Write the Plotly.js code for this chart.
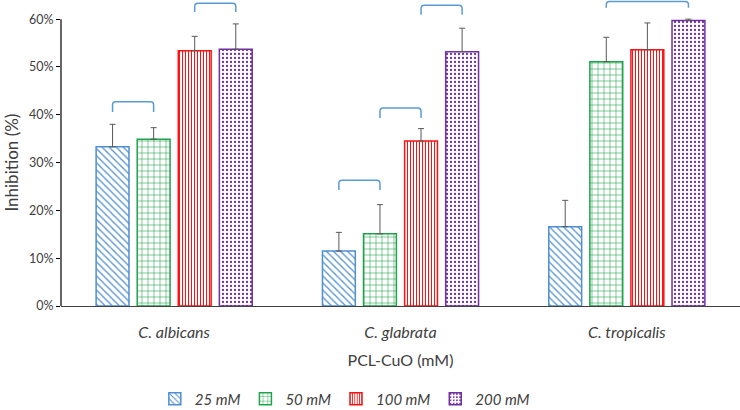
<!DOCTYPE html>
<html>
<head>
<meta charset="utf-8">
<script src="https://cdn.plot.ly/plotly-3.0.1.min.js"></script>
<style>html,body{margin:0;padding:0;background:#fff;}#chart{width:740px;height:410px;}</style>
</head>
<body>
<div id="chart"></div>
<script>
// ---- data ----
var categories = ['C. albicans', 'C. glabrata', 'C. tropicalis'];
var seriesNames = ['25 mM', '50 mM', '100 mM', '200 mM'];
var inh25 = [0.333, 0.115, 0.166];
var inh50 = [0.349, 0.151, 0.511];
var inh100 = [0.534, 0.345, 0.536];
var inh200 = [0.537, 0.532, 0.597];
var err25 = [0.047, 0.039, 0.055];
var err50 = [0.024, 0.061, 0.051];
var err100 = [0.030, 0.026, 0.056];
var err200 = [0.053, 0.049, 0.003];
var yTickVals = [0, 0.1, 0.2, 0.3, 0.4, 0.5, 0.6];
var yTickText = ['0%', '10%', '20%', '30%', '40%', '50%', '60%'];
// significance brackets: category index, from series, to series, top level, end level
var brCat = [0, 0, 1, 1, 1, 2];
var brFrom = [0, 2, 0, 1, 2, 1];
var brTo = [1, 3, 1, 2, 3, 3];
var brTop = [0.427, 0.633, 0.263, 0.414, 0.629, 0.637];
var brEnd = [0.406, 0.615, 0.2425, 0.393, 0.609, 0.624];

// ---- styles ----
var colors = ['#4F8FD0', '#1FA34A', '#FF1010', '#7030A0'];
var shapesPat = ['\\', '+', '|', '.'];
var patSize = [5, 6, 3, 4];
var patSolid = [0.25, 0.18, 0.35, 0.25];
var values = [inh25, inh50, inh100, inh200];
var errs = [err25, err50, err100, err200];
var bargap = 0.274;
var font = 'Lato, "Open Sans", sans-serif';
var textColor = '#404040';

var traces = values.map(function (v, i) {
  return {
    type: 'bar', name: seriesNames[i], x: categories, y: v,
    marker: {
      color: '#ffffff',
      line: {color: colors[i], width: 1.5},
      pattern: {shape: shapesPat[i], fgcolor: colors[i], bgcolor: '#ffffff', size: patSize[i], solidity: patSolid[i], fillmode: 'replace'}
    },
    error_y: {type: 'data', symmetric: false, array: errs[i], arrayminus: v.map(function(){return 0;}), color: '#595959', thickness: 1, width: 3},
    hoverinfo: 'none'
  };
});

var slot = (1 - bargap) / 4;
function barCenter(cat, s) { return cat + (s - 1.5) * slot; }
var rx = 0.014, ry = 0.007;
var shapes = brCat.map(function (c, k) {
  var x1 = barCenter(c, brFrom[k]), x2 = barCenter(c, brTo[k]);
  var t = brTop[k], e = brEnd[k];
  var d = 'M' + x1 + ',' + e + ' L' + x1 + ',' + (t - ry) + ' Q' + x1 + ',' + t + ' ' + (x1 + rx) + ',' + t +
    ' L' + (x2 - rx) + ',' + t + ' Q' + x2 + ',' + t + ' ' + x2 + ',' + (t - ry) + ' L' + x2 + ',' + e;
  return {type: 'path', xref: 'x', yref: 'y', path: d, line: {color: '#5B9BD5', width: 1.5}};
});
// y axis line (0% to 60%)
shapes.push({type: 'line', xref: 'paper', yref: 'y', x0: 0, x1: 0, y0: 0, y1: yTickVals[yTickVals.length - 1], line: {color: '#000000', width: 1.2}});

var layout = {
  width: 740, height: 410,
  margin: {l: 61, r: 0, t: 0, b: 104, autoexpand: false},
  paper_bgcolor: '#ffffff', plot_bgcolor: '#ffffff',
  font: {family: font, color: textColor},
  barmode: 'group', bargap: bargap, bargroupgap: 0.2,
  showlegend: true,
  legend: {orientation: 'h', x: 0.418, xanchor: 'center', y: -0.304, yanchor: 'middle', font: {size: 15, style: 'italic', color: textColor}, itemwidth: 30},
  xaxis: {
    type: 'category', range: [-0.5, 2.5], showgrid: false, zeroline: false,
    showline: true, linecolor: '#404040', linewidth: 1.2, ticks: '', ticklabelstandoff: 12,
    tickfont: {size: 16, style: 'italic', color: textColor},
    title: {text: 'PCL-CuO (mM)', font: {size: 16, color: textColor}, standoff: 14}
  },
  yaxis: {
    range: [0, 0.64], showgrid: false, zeroline: false, showline: false,
    tickvals: yTickVals, ticktext: yTickText, ticks: 'outside', ticklen: 4, tickcolor: '#000000',
    tickfont: {size: 12.5, color: textColor}
  },
  annotations: [{
    text: 'Inhibition (%)', textangle: -90, xref: 'paper', x: 0, xshift: -49, xanchor: 'center',
    yref: 'y', y: yTickVals[yTickVals.length - 1] / 2, yanchor: 'middle', showarrow: false,
    font: {size: 17, color: textColor}
  }],
  shapes: shapes
};

Plotly.newPlot('chart', traces, layout, {displayModeBar: false, staticPlot: true});
</script>
</body>
</html>
